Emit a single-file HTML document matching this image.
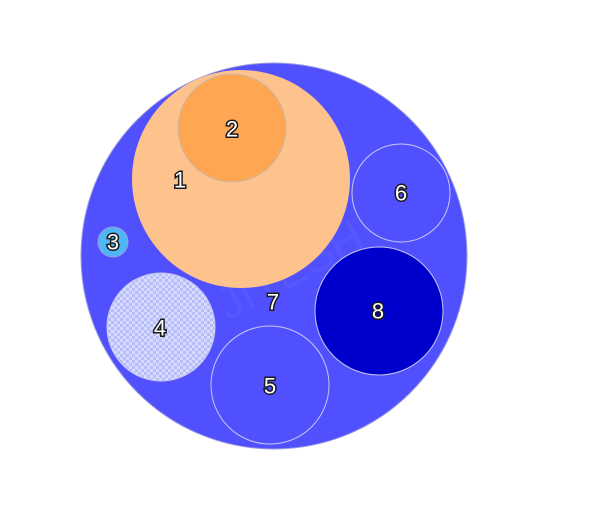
<!DOCTYPE html>
<html><head><meta charset="utf-8"><style>
html,body{margin:0;padding:0;background:#fff;}
svg{display:block;}
text{font-family:"Liberation Sans",sans-serif;font-size:22px;fill:#fff;stroke:#1a1a1a;stroke-width:3px;paint-order:stroke;text-anchor:middle;dominant-baseline:central;}
</style></head><body>
<svg width="610" height="513" viewBox="0 0 610 513" xmlns="http://www.w3.org/2000/svg">
<defs>
<pattern id="chk" width="6" height="6" patternUnits="userSpaceOnUse">
<rect width="6" height="6" fill="#d6dcff"/>
<rect width="3" height="3" fill="#b8bcf8"/>
<rect x="3" y="3" width="3" height="3" fill="#b8bcf8"/>
</pattern>
</defs>
<circle cx="274" cy="256" r="193" fill="#5050ff" stroke="#9a9ae0" stroke-width="1"/>
<text x="290" y="270" style="font-size:46px;fill:#6464ff;stroke:none;opacity:0.35" transform="rotate(-28 290 270)">JITESH</text>
<circle cx="241" cy="179" r="109" fill="#fec28c"/>
<circle cx="232" cy="128" r="54" fill="#fea652" stroke="#c8b8a8" stroke-width="1"/>
<circle cx="401" cy="193" r="49" fill="#5050ff" stroke="#c8c8f0" stroke-width="1"/>
<circle cx="113" cy="242" r="15" fill="#4fb6f6" stroke="#9a9ae0" stroke-width="1"/>
<circle cx="161" cy="327" r="54" fill="url(#chk)" stroke="#c8c8f0" stroke-width="1"/>
<circle cx="270" cy="385" r="59" fill="#5050ff" stroke="#c8c8f0" stroke-width="1"/>
<circle cx="379" cy="311" r="64" fill="#0000cc" stroke="#c8c8f0" stroke-width="1"/>
<text x="180" y="180">1</text>
<text x="232" y="129">2</text>
<text x="113" y="242">3</text>
<text x="160" y="328">4</text>
<text x="270" y="386">5</text>
<text x="401" y="193">6</text>
<text x="273" y="302">7</text>
<text x="378" y="311">8</text>
</svg>
</body></html>
